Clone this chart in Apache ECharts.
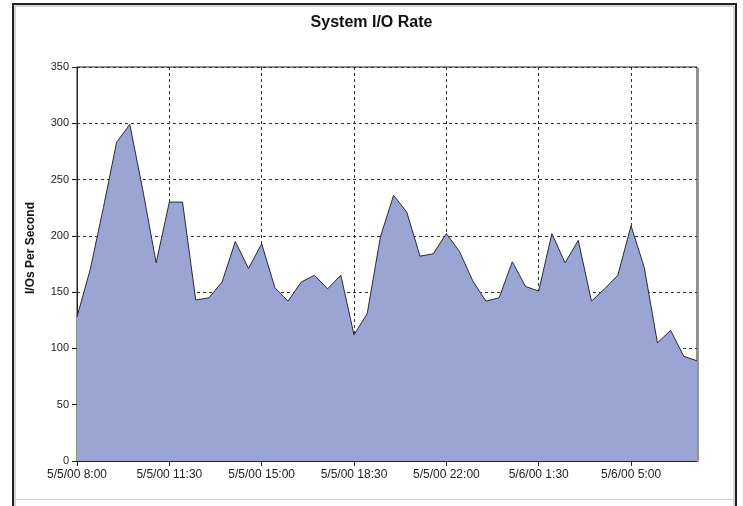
<!DOCTYPE html>
<html>
<head>
<meta charset="utf-8">
<script src="https://cdn.jsdelivr.net/npm/echarts@6/dist/echarts.min.js"></script>
<style>html,body{margin:0;padding:0;background:#fff;}#c{width:743px;height:506px;}</style>
</head>
<body>
<div id="c"></div>
<script>
var categories = [
 "5/5/00 8:00","5/5/00 8:30","5/5/00 9:00","5/5/00 9:30","5/5/00 10:00","5/5/00 10:30",
 "5/5/00 11:00","5/5/00 11:30","5/5/00 12:00","5/5/00 12:30","5/5/00 13:00","5/5/00 13:30",
 "5/5/00 14:00","5/5/00 14:30","5/5/00 15:00","5/5/00 15:30","5/5/00 16:00","5/5/00 16:30",
 "5/5/00 17:00","5/5/00 17:30","5/5/00 18:00","5/5/00 18:30","5/5/00 19:00","5/5/00 19:30",
 "5/5/00 20:00","5/5/00 20:30","5/5/00 21:00","5/5/00 21:30","5/5/00 22:00","5/5/00 22:30",
 "5/5/00 23:00","5/5/00 23:30","5/6/00 0:00","5/6/00 0:30","5/6/00 1:00","5/6/00 1:30",
 "5/6/00 2:00","5/6/00 2:30","5/6/00 3:00","5/6/00 3:30","5/6/00 4:00","5/6/00 4:30",
 "5/6/00 5:00","5/6/00 5:30","5/6/00 6:00","5/6/00 6:30","5/6/00 7:00","5/6/00 7:30"
];
var ioRate = [
 128, 170, 225, 283, 299, 240, 176, 230, 230, 143, 145, 159,
 195, 171, 193, 154, 142, 159, 165, 153, 165, 112, 131, 199,
 236, 221, 182, 184, 202, 186, 160, 142, 145, 177, 155, 151,
 202, 176, 196, 142, 153, 165, 209, 172, 105, 116, 93, 89
];
var titleText = "System I/O Rate";
var yAxisName = "I/Os Per Second";
var yMin = 0, yMax = 350, yStep = 50;

var chart = echarts.init(document.getElementById('c'), null, {renderer: 'canvas'});
var font = "'Liberation Sans', Arial, sans-serif";
chart.setOption({
  animation: false,
  backgroundColor: '#ffffff',
  title: {
    text: titleText, left: 'center', top: 10,
    textStyle: {fontFamily: font, fontSize: 16, fontWeight: 'bold', color: '#111'}
  },
  grid: {
    left: 77, right: 46, top: 67, bottom: 45,
    show: true, borderColor: '#222', borderWidth: 1, backgroundColor: '#fff'
  },
  xAxis: {
    type: 'category', data: categories, boundaryGap: false,
    axisLine: {lineStyle: {color: '#222', width: 1}},
    axisTick: {show: true, interval: 6, length: 5, lineStyle: {color: '#222'}},
    axisLabel: {interval: 6, margin: 8, fontFamily: font, fontSize: 12, color: '#222'},
    splitLine: {show: true, interval: 6, lineStyle: {color: '#333', type: [3, 3], width: 1}}
  },
  yAxis: {
    type: 'value', min: yMin, max: yMax, interval: yStep,
    axisLine: {show: true, lineStyle: {color: '#222', width: 1}},
    axisTick: {show: true, length: 5, lineStyle: {color: '#222'}},
    axisLabel: {margin: 8, fontFamily: font, fontSize: 11, color: '#222'},
    splitLine: {show: true, lineStyle: {color: '#333', type: [3, 3], width: 1}}
  },
  series: [{
    type: 'line', data: ioRate, symbol: 'none', smooth: false,
    lineStyle: {color: '#2a2a33', width: 1},
    areaStyle: {color: '#9aa5d3', opacity: 1},
    z: 3
  }],
  graphic: [
    {type: 'text', x: 31, y: 248, rotation: Math.PI / 2, originX: 0, originY: 0,
     style: {text: yAxisName, fontFamily: font, fontSize: 12, fontWeight: 'bold', fill: '#111',
             textAlign: 'center', textVerticalAlign: 'middle'}},
    {type: 'line', shape: {x1: 13, y1: 4, x2: 13, y2: 506}, style: {stroke: '#222', lineWidth: 2}},
    {type: 'line', shape: {x1: 15, y1: 6, x2: 15, y2: 506}, style: {stroke: '#aaa', lineWidth: 1}},
    {type: 'line', shape: {x1: 12, y1: 4, x2: 737, y2: 4}, style: {stroke: '#222', lineWidth: 2}},
    {type: 'line', shape: {x1: 15, y1: 6, x2: 734, y2: 6}, style: {stroke: '#aaa', lineWidth: 1}},
    {type: 'line', shape: {x1: 736, y1: 3, x2: 736, y2: 506}, style: {stroke: '#222', lineWidth: 2}},
    {type: 'line', shape: {x1: 734, y1: 6, x2: 734, y2: 506}, style: {stroke: '#aaa', lineWidth: 1}},
    {type: 'line', shape: {x1: 15, y1: 499.5, x2: 734, y2: 499.5}, style: {stroke: '#cfcfcf', lineWidth: 1}},
    {type: 'line', shape: {x1: 698.5, y1: 68, x2: 698.5, y2: 462}, style: {stroke: '#999', lineWidth: 1}}
  ]
});
</script>
</body>
</html>
